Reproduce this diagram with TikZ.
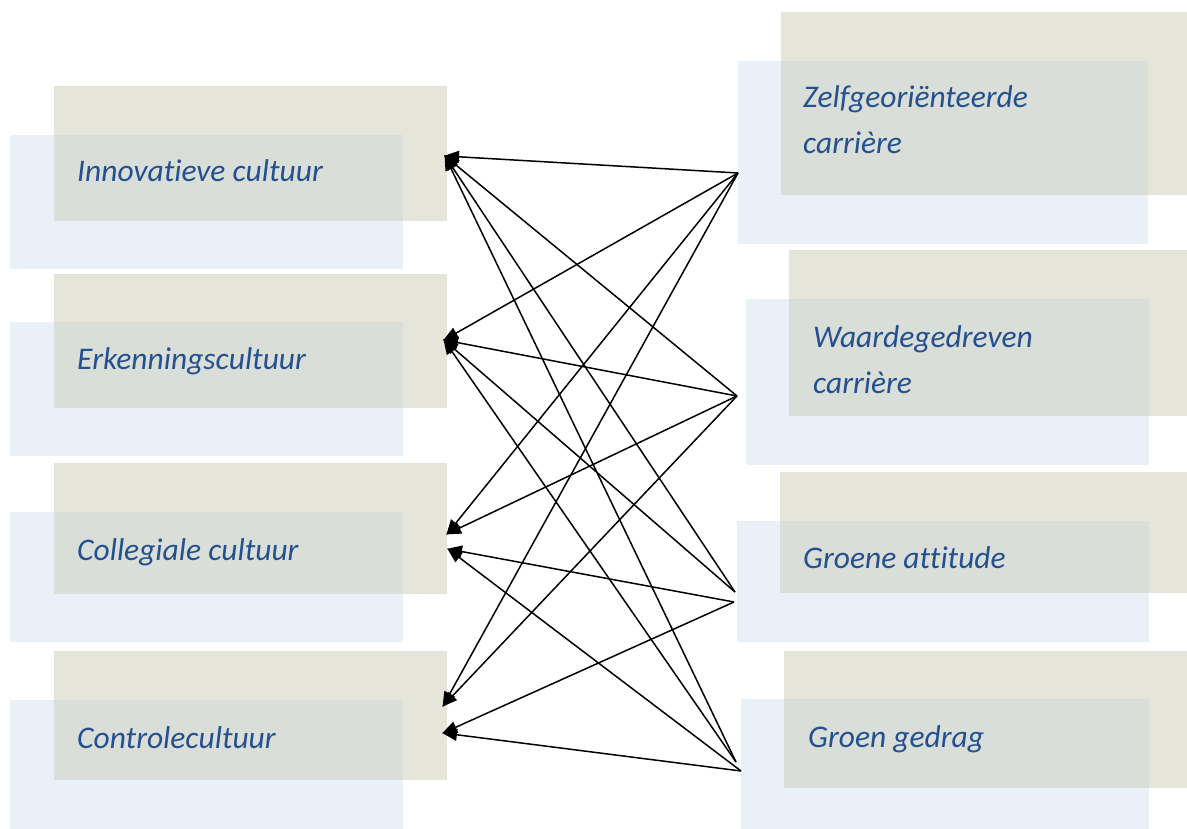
\documentclass[tikz,border=0pt]{standalone}
\usepackage{fontspec}
\setmainfont{Carlito}[Ligatures=NoCommon]
\usetikzlibrary{arrows.meta}
\definecolor{tanc}{HTML}{E6E5D9}
\definecolor{bluec}{HTML}{EAF0F8}
\definecolor{ovlc}{HTML}{D9DED8}
\definecolor{txtc}{HTML}{24508F}
\tikzset{
  tanbox/.style={draw=none, fill=tanc, inner sep=0pt, anchor=north west},
  bluebox/.style={draw=none, fill=bluec, inner sep=0pt, anchor=north west},
  ovl/.style={fill=ovlc},
  lbl/.style={font=\fontsize{31.5}{46}\selectfont\itshape, text=txtc, inner sep=0pt, anchor=base west, align=left},
  conn/.style={draw=black, line width=1.5pt, -{Triangle[length=15pt,width=12pt]}, shorten >=-1pt}
}
\newcommand{\cbox}[7]{%
  \node[tanbox, minimum width=#4pt, minimum height=#5pt] (#1t) at (#2,#3) {};
  \node[bluebox, minimum width=\bw pt, minimum height=\bh pt] (#1b) at (#6,#7) {};
  \fill[ovl] (#1t.west |- #1b.north) rectangle (#1b.east |- #1t.south);
}
\begin{document}
\begin{tikzpicture}[x=1pt, y=-1pt]
\useasboundingbox (0,0) rectangle (1187,829);
% left boxes
\def\bw{393}\def\bh{134}
\cbox{L1}{54}{86}{393}{135}{10}{135}
\cbox{L2}{54}{274}{393}{134}{10}{322}
\def\bh{130}
\cbox{L3}{54}{463}{393}{131}{10}{512}
\def\bh{129}
\cbox{L4}{54}{651}{393}{129}{10}{700}
% right boxes
\def\bw{410}\def\bh{183}
\cbox{R1}{781}{12}{406}{183}{738}{61}
\def\bw{403}\def\bh{166}
\cbox{R2}{789}{250}{398}{166}{746}{299}
\def\bw{412}\def\bh{121}
\cbox{R3}{780}{472}{407}{121}{737}{521}
\def\bw{408}\def\bh{130}
\cbox{R4}{784}{651}{403}{137}{741}{699}
% labels
\node[lbl] (t1) at (77,182) {Innovatieve cultuur};
\node[lbl] (t2) at (77,370) {Erkenningscultuur};
\node[lbl] (t3) at (77,560) {Collegiale cultuur};
\node[lbl] (t4) at (77,748) {Controlecultuur};
\node[lbl] (t5) at (803,154) {Zelfgeoriënteerde\\carrière};
\node[lbl] (t6) at (813,393) {Waardegedreven\\carrière};
\node[lbl] (t7) at (803,568) {Groene attitude};
\node[lbl] (t8) at (808,747) {Groen gedrag};
% connector end points
\coordinate (a1) at (445,156);
\coordinate (a2) at (444,340);
\coordinate (a3u) at (447,534);
\coordinate (a3l) at (448,549);
\coordinate (a4u) at (443,706);
\coordinate (a4l) at (443,733);
\coordinate (z) at (738,173);
\coordinate (w) at (737,396);
\coordinate (gu) at (735,592);
\coordinate (gl) at (734,602);
\coordinate (ggu) at (736,762);
\coordinate (ggl) at (741,771);
% connectors
\draw[conn] (z) -- (a1);
\draw[conn] (z) -- (a2);
\draw[conn] (z) -- (a3u);
\draw[conn] (z) -- (a4u);
\draw[conn] (w) -- (a1);
\draw[conn] (w) -- (a2);
\draw[conn] (w) -- (a3u);
\draw[conn] (w) -- (a4u);
\draw[conn] (gu) -- (a1);
\draw[conn] (gu) -- (a2);
\draw[conn] (gl) -- (a3l);
\draw[conn] (gl) -- (a4l);
\draw[conn] (ggu) -- (a1);
\draw[conn] (ggu) -- (a2);
\draw[conn] (ggl) -- (a3l);
\draw[conn] (ggl) -- (a4l);
\end{tikzpicture}
\end{document}
